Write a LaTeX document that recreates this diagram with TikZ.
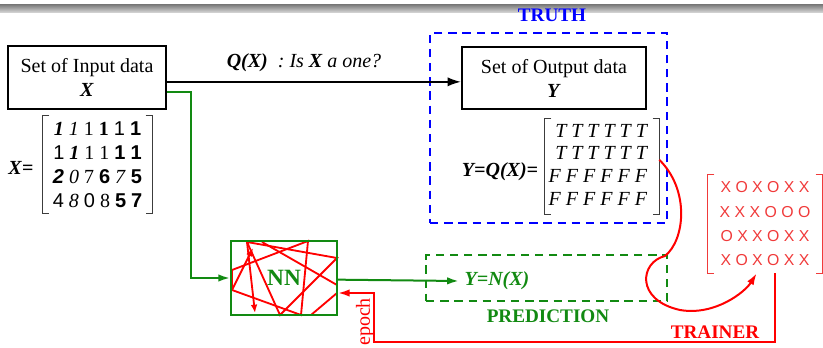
\documentclass[tikz,border=0pt]{standalone}
\usepackage{fontspec}
\setmainfont{Liberation Serif}
\setsansfont{Liberation Sans}
\usepackage{tikz}
\usetikzlibrary{arrows.meta,positioning,calc}
\definecolor{ink}{HTML}{000000}
\definecolor{truthblue}{HTML}{0000FF}
\definecolor{predgreen}{HTML}{128A12}
\definecolor{trainred}{HTML}{FF0000}
\definecolor{softred}{HTML}{F03A3A}
\definecolor{brackgray}{HTML}{3C3C3C}

\begin{document}
\begin{tikzpicture}[
  x=0.6pt, y=-0.6pt,
  font=\fontsize{12}{14.4}\selectfont,
  databox/.style={draw=ink, line width=1.2pt, align=center, inner sep=0pt, minimum height=37.5pt},
  matbox/.style={inner sep=0pt, align=center, minimum width=68.4pt, minimum height=57.6pt},
  bracket/.style={draw=brackgray, line width=0.7pt},
  truthframe/.style={draw=truthblue, line width=1.3pt, dash pattern=on 5pt off 3.5pt, inner sep=0pt},
  predframe/.style={draw=predgreen, line width=1.3pt, dash pattern=on 5pt off 3.5pt, inner sep=0pt},
  tag/.style={font=\fontsize{11.5}{13}\selectfont\bfseries},
  arrow/.style={-{Latex[length=8pt,width=5.5pt]}, draw=ink, line width=1.1pt},
  nnarrow/.style={-{Latex[length=7pt,width=4.5pt]}, draw=predgreen, line width=1.2pt},
  trainarrow/.style={-{Latex[length=7pt,width=4.5pt]}, draw=trainred, line width=1.2pt},
  scribble/.style={draw=trainred, line width=1.1pt}
]
\useasboundingbox (0,0) rectangle (823,348);
\shade[top color=black!52, bottom color=black!14] (0,4.5) rectangle (823,13);

% truth side
\node[truthframe, minimum width=142.2pt, minimum height=114pt] (truth) at (548.5,128) {};
\node[tag, text=truthblue] (truthlbl) at (552,15) {TRUTH};
\node[databox, minimum width=94.8pt] (inbox) at (87,77.5) {Set of Input data\\\textbf{\textit{X}}};
\node[databox, minimum width=110.4pt] (outbox) at (554,78) {Set of Output data\\\textbf{\textit{Y}}};
\draw[arrow] ([yshift=-2.6pt]inbox.east) -- ([yshift=-2.6pt]inbox.east -| outbox.west);
\node (ask) at (304,63) {\textbf{\textit{Q(X)}}\ \ \textit{: Is \textbf{X} a one?}};

% data matrices
\node (xlbl) at (21,168) {\textbf{\textit{X}}\textbf{=}};
\node[matbox, minimum width=65.4pt, minimum height=58.2pt] (xmat) at (97.5,164.5) {%
  \textbf{\textit{1}} \textit{1} 1 \textbf{1} \textsf{1} \textsf{\textbf{1}}\\
  \textsf{1} \textbf{\textit{1}} 1 1 \textsf{\textbf{1}} \textsf{\textbf{1}}\\
  \textsf{\textbf{\textit{2}}} \textit{0} 7 \textsf{\textbf{6}} \textit{7} \textsf{\textbf{5}}\\
  \textsf{4} \textit{8} \textsf{0} 8 \textsf{\textbf{5}} \textsf{\textbf{7}}};
\node (ylbl) at (500,172) {\textbf{\textit{Y=Q(X)=}}};
\node[matbox, font=\fontsize{12}{13.6}\selectfont\itshape] (ymat) at (602,166.5) {%
  \begin{tabular}{@{}r@{}}T T T T T T\\T T T T T T\\F F F F F F\\F F F F F F\end{tabular}\hspace{5pt}};
\node[matbox, minimum height=58.8pt, text=softred, font=\sffamily\fontsize{9.5}{14.6}\selectfont] (xomat) at (765,224) {%
  X O X O X X\\X X X O O O\\O X X O X X\\X O X O X X};
\foreach \m/\c in {xmat/brackgray, ymat/brackgray, xomat/softred} {
  \draw[bracket, draw=\c] ([xshift=4pt]\m.north west) -- (\m.north west) -- (\m.south west) -- ++(4pt,0);
  \draw[bracket, draw=\c] ([xshift=-4pt]\m.north east) -- (\m.north east) -- (\m.south east) -- ++(-4pt,0);
}

% network
\draw[scribble] (247,242) -- (337,258) -- (280,315) -- cycle;
\draw[scribble] (232,270) -- (308,241) -- (301,315) -- (232,290) -- cycle;
\draw[scribble] (262,242) -- (337,285);
\draw[scribble, -{Latex[length=5pt,width=4pt]}] (232,290) -- (253,248);
\draw[scribble, -{Latex[length=5pt,width=4pt]}] (247,242) -- (255,313);
\draw[scribble] (311,315) -- (337,293);
\node[draw=predgreen, line width=1.2pt, minimum width=63.6pt, minimum height=44.4pt, inner sep=0pt,
  text=predgreen, font=\fontsize{14}{16}\selectfont\bfseries] (nnbox) at (284,278) {NN};
\draw[nnarrow] ([yshift=-8.7pt]inbox.east) -- ++(24,0) |- (nnbox.west);

% prediction
\node[predframe, minimum width=144.6pt, minimum height=27.6pt] (pred) at (546.5,278) {};
\node[text=predgreen] (ynx) at (497,281) {\textbf{\textit{Y=N(X)}}};
\draw[nnarrow] ([yshift=-1pt]nnbox.east) -- (ynx.west);
\node[tag, text=predgreen] (predlbl) at (548,316) {PREDICTION};

% trainer
\draw[trainarrow] ([yshift=4pt]ymat.east) .. controls (690,190) and (685,240) .. (665,256)
  .. controls (640,262) and (635,300) .. (680,310)
  .. controls (715,316) and (745,292) .. ([xshift=-5pt]xomat.south);
\coordinate (epochcorner) at (374,342);
\draw[trainarrow] ([xshift=6pt]xomat.south) |- (epochcorner) |- ([yshift=-9pt]nnbox.east);
\node[tag, text=trainred] (trainlbl) at (715,332) {TRAINER};
\node[text=trainred, rotate=90, inner sep=1pt] (epochlbl) at (365,322) {epoch};
\end{tikzpicture}
\end{document}
